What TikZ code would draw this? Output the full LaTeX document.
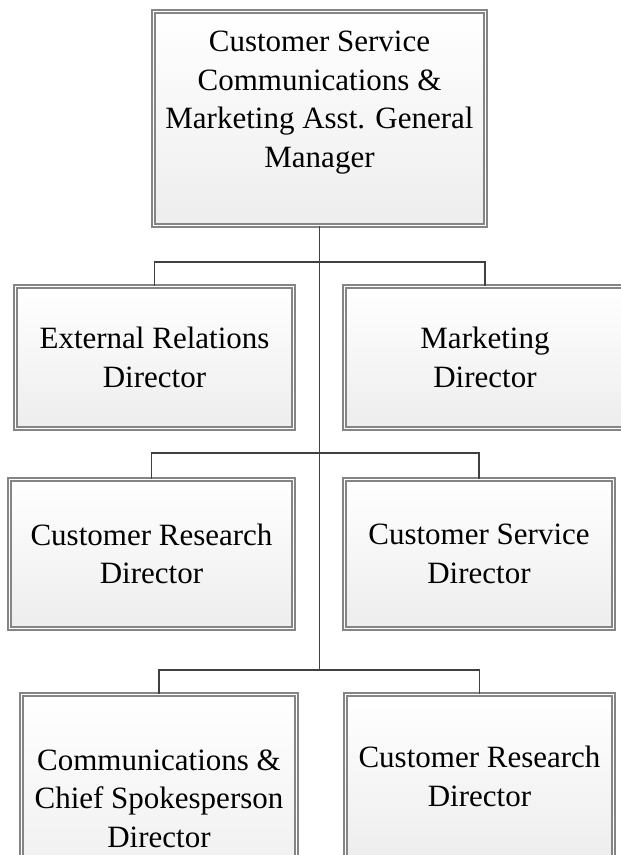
\documentclass[tikz,border=0pt]{standalone}
\usepackage{fontspec}
\setmainfont{Liberation Serif}
\usetikzlibrary{calc,shadows}

\begin{document}
\begin{tikzpicture}[
  x=1pt, y=1pt,
  block/.style={draw=black!48, line width=1.4pt, double=white, double distance=1.6pt, top color=white, bottom color=black!7, align=center, inner sep=0pt, font=\fontsize{31}{38.5}\selectfont, drop shadow={opacity=0.18, shadow xshift=1.5pt, shadow yshift=-1.5pt}},
  link/.style={draw=black!75, line width=1.5pt}
]
\useasboundingbox (0,0) rectangle (621,855);
\clip (0,0) rectangle (621,855);

\node[block, minimum width=332, minimum height=214] (agm) at (319.5,736.5) {Customer Service\\Communications \&\\Marketing Asst. General\\Manager\\\mbox{}};

\node[block, minimum width=278, minimum height=142] (ext) at (154.5,497.5) {External Relations\\Director};
\node[block, minimum width=281, minimum height=142] (mkt) at (485,497.5) {Marketing\\Director};

\node[block, minimum width=284, minimum height=149] (cres) at (151.5,301) {Customer Research\\Director};
\node[block, minimum width=269, minimum height=149] (csvc) at (479,301) {Customer Service\\Director};

\node[block, minimum width=275, minimum height=208] (comm) at (159,56.5) {Communications \&\\Chief Spokesperson\\Director};
\node[block, minimum width=268, minimum height=164] (cres2) at (479.5,78.5) {Customer Research\\Director};

% org lines
\coordinate (bus1) at (agm.south |- 0,593);
\coordinate (bus2) at (agm.south |- 0,402);
\coordinate (bus3) at (agm.south |- 0,185);

\draw[link] (agm.south) -- (bus3);
\draw[link] (bus1) -| (ext.north);
\draw[link] (bus1) -| (mkt.north);
\draw[link] (bus2) -| (cres.north);
\draw[link] (bus2) -| (csvc.north);
\draw[link] (bus3) -| (comm.north);
\draw[link] (bus3) -| (cres2.north);

\end{tikzpicture}
\end{document}
